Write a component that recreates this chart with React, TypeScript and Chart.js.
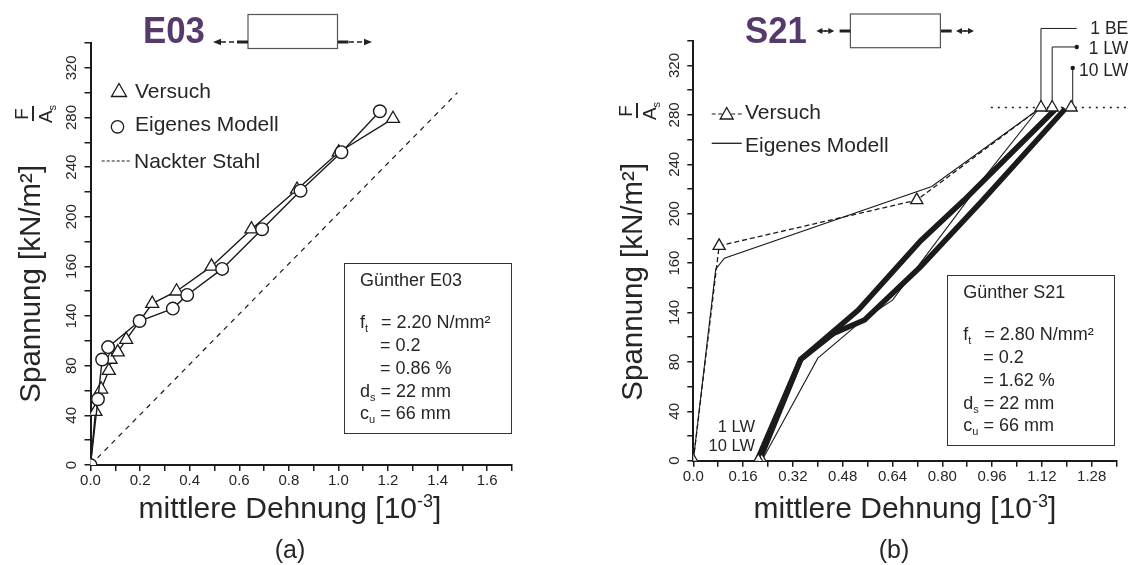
import React, { useEffect, useRef } from "react";
import { Chart, registerables } from "chart.js";

Chart.register(...registerables);

const FONT = "'Liberation Sans', Arial, Helvetica, sans-serif";
const INK = "#1b1b1b";
const TXT = "#262626";
const PURPLE = "#573a6c";

// ---------- shared tick labels ----------
const yTickLabels = ["0", "40", "80", "140", "160", "200", "240", "280", "320"];

// ---------- panel (a) : E03 ----------
const aXTickLabels = ["0.0", "0.2", "0.4", "0.6", "0.8", "1.0", "1.2", "1.4", "1.6"];
const aVersuchX = [0, 0.02, 0.043, 0.074, 0.081, 0.11, 0.144, 0.249, 0.347, 0.488, 0.649, 0.833, 1.001, 1.22];
const aVersuchY = [0, 43, 61, 76, 85, 91, 101, 130, 140, 160, 190, 222, 252, 279];
const aModellX = [0, 0.03, 0.047, 0.071, 0.198, 0.332, 0.39, 0.531, 0.692, 0.847, 1.012, 1.167];
const aModellY = [0, 53, 85, 95, 116, 126, 137, 158, 190, 221, 252, 285];
const aStahlX = [0, 1.48];
const aStahlY = [0, 300];

// ---------- panel (b) : S21 ----------
const bXTickLabels = ["0.0", "0.16", "0.32", "0.48", "0.64", "0.80", "0.96", "1.12", "1.28"];
const bVersuchX = [0, 0.083, 0.718, 1.117];
const bVersuchY = [0, 174, 211, 286];
const bVersuchLwX = [0.209, 1.153];
const bVersuchLwY = [0, 286];
const bVersuch10X = [0.22, 1.214];
const bVersuch10Y = [0, 286];
const bModellBeX = [0, 0.072, 0.1, 0.766, 1.117];
const bModellBeY = [0, 155, 164, 222, 286];
const bModellThinX = [0.22, 0.4, 0.55, 0.64, 0.84, 0.94, 1.11];
const bModellThinY = [0, 83, 115, 130, 197, 231, 285];
const bBand1X = [0.205, 0.345, 0.53, 0.73, 0.87, 1.165];
const bBand1Y = [0, 82, 122, 178, 211, 285];
const bBand2X = [0.212, 0.345, 0.45, 0.55, 0.73, 0.93, 1.195];
const bBand2Y = [0, 82, 103, 114, 157, 211, 285];
const bUltimateX = [0.956, 1.396];
const bUltimateY = [286, 286];
const bLeaderBeX = [1.117, 1.117, 1.232];
const bLeaderBeY = [286, 350, 350];
const bLeaderLwX = [1.153, 1.153, 1.232];
const bLeaderLwY = [286, 335, 335];
const bLeader10X = [1.219, 1.219];
const bLeader10Y = [286, 318];

const pts = (xs: number[], ys: number[]) => xs.map((x, i) => ({ x, y: ys[i] }));

function xScale(max: number, step: number, labels: string[]) {
  return {
    type: "linear",
    position: "bottom",
    min: 0,
    max,
    border: { display: true, color: INK, width: 2 },
    grid: { display: true, drawOnChartArea: false, drawTicks: true, tickLength: 6, color: INK, lineWidth: 1.5 },
    ticks: {
      stepSize: step,
      autoSkip: false,
      maxRotation: 0,
      minRotation: 0,
      padding: 1,
      color: TXT,
      font: { family: FONT, size: 15 },
      callback: (v: number) => {
        const k = Math.round(v / step);
        return k % 2 === 0 && labels[k / 2] !== undefined ? labels[k / 2] : "";
      },
    },
    afterFit: (s: any) => {
      s.height = 30;
    },
  };
}

function yScale() {
  return {
    type: "linear",
    position: "left",
    min: 0,
    max: 340,
    border: { display: true, color: INK, width: 2 },
    grid: { display: true, drawOnChartArea: false, drawTicks: true, tickLength: 6, color: INK, lineWidth: 1.5 },
    ticks: {
      stepSize: 20,
      autoSkip: false,
      minRotation: 90,
      maxRotation: 90,
      crossAlign: "center",
      padding: 0,
      color: TXT,
      font: { family: FONT, size: 15 },
      callback: (v: number) => {
        const k = Math.round(v / 20);
        return k % 2 === 0 && yTickLabels[k / 2] !== undefined ? yTickLabels[k / 2] : "";
      },
    },
    afterFit: (s: any) => {
      s.width = 40;
    },
  };
}

const tri = (r: number) => ({
  pointStyle: "triangle",
  pointRadius: r,
  pointBackgroundColor: "#fff",
  pointBorderColor: INK,
  pointBorderWidth: 1.3,
});

function ChartA() {
  const ref = useRef<HTMLCanvasElement | null>(null);
  useEffect(() => {
    const chart = new Chart(ref.current as HTMLCanvasElement, {
      type: "scatter",
      data: {
        datasets: [
          {
            label: "Eigenes Modell",
            data: pts(aModellX, aModellY),
            showLine: true,
            borderColor: INK,
            borderWidth: 1.4,
            pointStyle: "circle",
            pointRadius: 6.3,
            pointBackgroundColor: "#fff",
            pointBorderColor: INK,
            pointBorderWidth: 1.4,
          },
          {
            label: "Versuch",
            data: pts(aVersuchX, aVersuchY),
            showLine: true,
            borderColor: INK,
            borderWidth: 1.4,
            ...tri(7.5),
          },
          {
            label: "Nackter Stahl",
            data: pts(aStahlX, aStahlY),
            showLine: true,
            borderColor: INK,
            borderWidth: 1.2,
            borderDash: [5, 5],
            pointRadius: 0,
          },
        ],
      } as any,
      options: {
        animation: false,
        responsive: false,
        events: [],
        layout: { padding: { left: 50.5, top: 43, right: 54, bottom: 70 } },
        plugins: { legend: { display: false }, tooltip: { enabled: false } },
        scales: { x: xScale(1.7, 0.1, aXTickLabels), y: yScale() } as any,
      },
    });
    return () => chart.destroy();
  }, []);
  return <canvas ref={ref} width={566} height={565} style={{ position: "absolute", left: 0, top: 0 }} />;
}

function ChartB() {
  const ref = useRef<HTMLCanvasElement | null>(null);
  useEffect(() => {
    const line = (data: any, w: number, extra: any = {}) => ({
      data,
      showLine: true,
      borderColor: INK,
      borderWidth: w,
      pointRadius: 0,
      ...extra,
    });
    const chart = new Chart(ref.current as HTMLCanvasElement, {
      type: "scatter",
      data: {
        datasets: [
          line(pts(bVersuchX, bVersuchY), 1.3, { label: "Versuch 1 BE", borderDash: [5, 3], ...tri(7) }),
          { label: "Versuch 1 LW", data: pts(bVersuchLwX, bVersuchLwY), showLine: false, ...tri(7) },
          { label: "Versuch 10 LW", data: pts(bVersuch10X, bVersuch10Y), showLine: false, ...tri(7) },
          line(pts(bLeaderBeX, bLeaderBeY), 1, { clip: false, pointRadius: [0, 0, 2.2], pointBackgroundColor: INK, pointBorderWidth: 0 }),
          line(pts(bLeaderLwX, bLeaderLwY), 1, { clip: false, pointRadius: [0, 0, 2.2], pointBackgroundColor: INK, pointBorderWidth: 0 }),
          line(pts(bLeader10X, bLeader10Y), 1, { clip: false, pointRadius: [0, 2.2], pointBackgroundColor: INK, pointBorderWidth: 0 }),
          line(pts(bModellBeX, bModellBeY), 1.1, { label: "Eigenes Modell 1 BE" }),
          line(pts(bModellThinX, bModellThinY), 1.1, { label: "Eigenes Modell" }),
          line(pts(bBand1X, bBand1Y), 5.5, { label: "Eigenes Modell 1 LW" }),
          line(pts(bBand2X, bBand2Y), 5.5, { label: "Eigenes Modell 10 LW" }),
          line(pts(bUltimateX, bUltimateY), 1.4, { clip: false, borderDash: [2, 5] }),
        ],
      } as any,
      options: {
        animation: false,
        responsive: false,
        events: [],
        layout: { padding: { left: 87.3, top: 40.8, right: 14.4, bottom: 74.3 } },
        plugins: { legend: { display: false }, tooltip: { enabled: false } },
        scales: { x: xScale(1.36, 0.08, bXTickLabels), y: yScale() } as any,
      },
    });
    return () => chart.destroy();
  }, []);
  return <canvas ref={ref} width={565} height={565} style={{ position: "absolute", left: 566, top: 0 }} />;
}

function Txt(props: any) {
  const { x, y, size, children, align = "left", weight = 400, color = TXT, extra = {} } = props;
  const st: any = {
    position: "absolute",
    top: y - 0.8465 * size,
    fontSize: size,
    lineHeight: `${size}px`,
    fontFamily: FONT,
    fontWeight: weight,
    color,
    whiteSpace: "nowrap",
  };
  if (align === "left") st.left = x;
  else if (align === "right") {
    st.left = x - 600;
    st.width = 600;
    st.textAlign = "right";
  } else {
    st.left = x - 600;
    st.width = 1200;
    st.textAlign = "center";
  }
  return <div style={{ ...st, ...extra }}>{children}</div>;
}

function VTxt({ cx, cy, size, children }: any) {
  return (
    <div
      style={{
        position: "absolute",
        left: cx - 300,
        top: cy - size / 2,
        width: 600,
        height: size,
        lineHeight: `${size}px`,
        textAlign: "center",
        fontSize: size,
        fontFamily: FONT,
        color: TXT,
        transform: "rotate(-90deg)",
        whiteSpace: "nowrap",
      }}
    >
      {children}
    </div>
  );
}

function Frac({ cx, cy }: any) {
  return (
    <div
      style={{
        position: "absolute",
        left: cx - 22,
        top: cy - 12,
        width: 44,
        height: 24,
        transform: "rotate(-90deg)",
        fontFamily: FONT,
        color: TXT,
      }}
    >
      <div style={{ display: "flex", flexDirection: "column", alignItems: "center", fontSize: 19, lineHeight: "19px", marginTop: -10 }}>
        <span>F</span>
        <div style={{ width: 15, height: 1.6, background: TXT, margin: "1px 0 2px 0" }} />
        <span>
          A<span style={{ fontSize: 11, position: "relative", top: 4 }}>s</span>
        </span>
      </div>
    </div>
  );
}

const sub = (s: string) => <span style={{ fontSize: 11, position: "relative", top: 4 }}>{s}</span>;

function InfoBox({ left, top, title, ft, rho }: any) {
  const rows = [23, 65, 88, 111, 134, 156];
  const L = left + 16;
  const E = left + 37;
  return (
    <>
      <div style={{ position: "absolute", left, top, width: 168, height: 171, border: "1.3px solid #333", boxSizing: "border-box", background: "#fff" }} />
      <Txt x={L} y={top + rows[0]} size={18}>{title}</Txt>
      <Txt x={L} y={top + rows[1]} size={18}>f{sub("t")}</Txt>
      <Txt x={E} y={top + rows[1]} size={18}>= {ft} N/mm²</Txt>
      <Txt x={E - 1} y={top + rows[2]} size={18}>= 0.2</Txt>
      <Txt x={E - 1} y={top + rows[3]} size={18}>= {rho} %</Txt>
      <Txt x={L} y={top + rows[4]} size={18}>d{sub("s")} = 22 mm</Txt>
      <Txt x={L} y={top + rows[5]} size={18}>c{sub("u")} = 66 mm</Txt>
    </>
  );
}

const XTitle = ({ cx }: any) => (
  <Txt x={cx} y={518} size={30} align="center">
    mittlere Dehnung [10<span style={{ fontSize: 18, position: "relative", top: -11 }}>-3</span>]
  </Txt>
);

function DoubleArrow({ x1, x2, y }: any) {
  const m = (x1 + x2) / 2;
  return (
    <g fill="#222" stroke="none">
      <polygon points={`${x1},${y} ${x1 + 6},${y - 3} ${x1 + 6},${y + 3}`} />
      <polygon points={`${x2},${y} ${x2 - 6},${y - 3} ${x2 - 6},${y + 3}`} />
      <line x1={x1 + 5} y1={y} x2={x2 - 5} y2={y} stroke="#222" strokeWidth={1.5} />
      <circle cx={m} cy={y} r={1} />
    </g>
  );
}

export default function App() {
  return (
    <div style={{ position: "fixed", left: 0, top: 0, width: 1131, height: 565, background: "#fff", overflow: "hidden" }}>
      <ChartA />
      <ChartB />

      {/* specimen icons */}
      <svg width={1131} height={565} style={{ position: "absolute", left: 0, top: 0, pointerEvents: "none" }}>
        <rect x={248} y={14.5} width={89.5} height={34} fill="#fff" stroke="#555" strokeWidth={1.2} />
        <polygon points="213,42 221,38.8 221,45.2" fill="#222" />
        <line x1={221} y1={42} x2={237} y2={42} stroke="#222" strokeWidth={1.3} strokeDasharray="5 3" />
        <line x1={237} y1={42} x2={248} y2={42} stroke="#222" strokeWidth={3} />
        <line x1={338} y1={42} x2={348.5} y2={42} stroke="#222" strokeWidth={3} />
        <line x1={349} y1={42} x2={364} y2={42} stroke="#222" strokeWidth={1.3} strokeDasharray="5 3" />
        <polygon points="372,42 364,38.8 364,45.2" fill="#222" />

        <rect x={850.4} y={14} width={90} height={33.7} fill="#fff" stroke="#555" strokeWidth={1.2} />
        <line x1={839.6} y1={31} x2={850.4} y2={31} stroke="#222" strokeWidth={3} />
        <line x1={941} y1={31} x2={951.7} y2={31} stroke="#222" strokeWidth={3} />
        <DoubleArrow x1={816.4} x2={834.3} y={31} />
        <DoubleArrow x1={956} x2={974} y={31} />

        {/* legend markers (a) */}
        <polygon points="119,83.5 126.5,96.5 111.5,96.5" fill="#fff" stroke={INK} strokeWidth={1.3} />
        <circle cx={117.5} cy={126.8} r={6.2} fill="#fff" stroke={INK} strokeWidth={1.3} />
        <line x1={101.7} y1={161} x2={130} y2={161} stroke={INK} strokeWidth={1.2} strokeDasharray="3 2" />

        {/* legend markers (b) */}
        <line x1={711.7} y1={114} x2={743.3} y2={114} stroke={INK} strokeWidth={1.2} strokeDasharray="4 2.5" />
        <polygon points="726.7,107.5 733.2,119 720.2,119" fill="#fff" stroke={INK} strokeWidth={1.3} />
        <line x1={711.7} y1={143.3} x2={741.7} y2={143.3} stroke={INK} strokeWidth={1.3} />
      </svg>

      {/* panel (a) texts */}
      <Txt x={143} y={43.3} size={37} weight={700} color={PURPLE} extra={{ transform: "scaleX(0.94)", transformOrigin: "left" }}>
        E03
      </Txt>
      <Txt x={135} y={97.7} size={21}>Versuch</Txt>
      <Txt x={135} y={130.7} size={21}>Eigenes Modell</Txt>
      <Txt x={134} y={167.7} size={21}>Nackter Stahl</Txt>
      <InfoBox left={344} top={263} title="Günther E03" ft="2.20" rho="0.86" />
      <VTxt cx={29.5} cy={284} size={29.5}>Spannung [kN/m²]</VTxt>
      <Frac cx={34} cy={114} />
      <XTitle cx={290} />
      <Txt x={290} y={558} size={25} align="center">(a)</Txt>

      {/* panel (b) texts */}
      <Txt x={745} y={43.3} size={37} weight={700} color={PURPLE} extra={{ transform: "scaleX(0.94)", transformOrigin: "left" }}>
        S21
      </Txt>
      <Txt x={745} y={118.3} size={21}>Versuch</Txt>
      <Txt x={745} y={151.7} size={21}>Eigenes Modell</Txt>
      <Txt x={755} y={431.7} size={16.5} align="right">1 LW</Txt>
      <Txt x={755} y={450.7} size={16.5} align="right">10 LW</Txt>
      <Txt x={1128.3} y={35} size={17.5} align="right">1 BE</Txt>
      <Txt x={1128.3} y={55} size={17.5} align="right">1 LW</Txt>
      <Txt x={1128.3} y={76.7} size={17.5} align="right">10 LW</Txt>
      <InfoBox left={947.3} top={275.3} title="Günther S21" ft="2.80" rho="1.62" />
      <VTxt cx={632} cy={282} size={29.5}>Spannung [kN/m²]</VTxt>
      <Frac cx={638} cy={111} />
      <XTitle cx={905} />
      <Txt x={894} y={558} size={25} align="center">(b)</Txt>
    </div>
  );
}
